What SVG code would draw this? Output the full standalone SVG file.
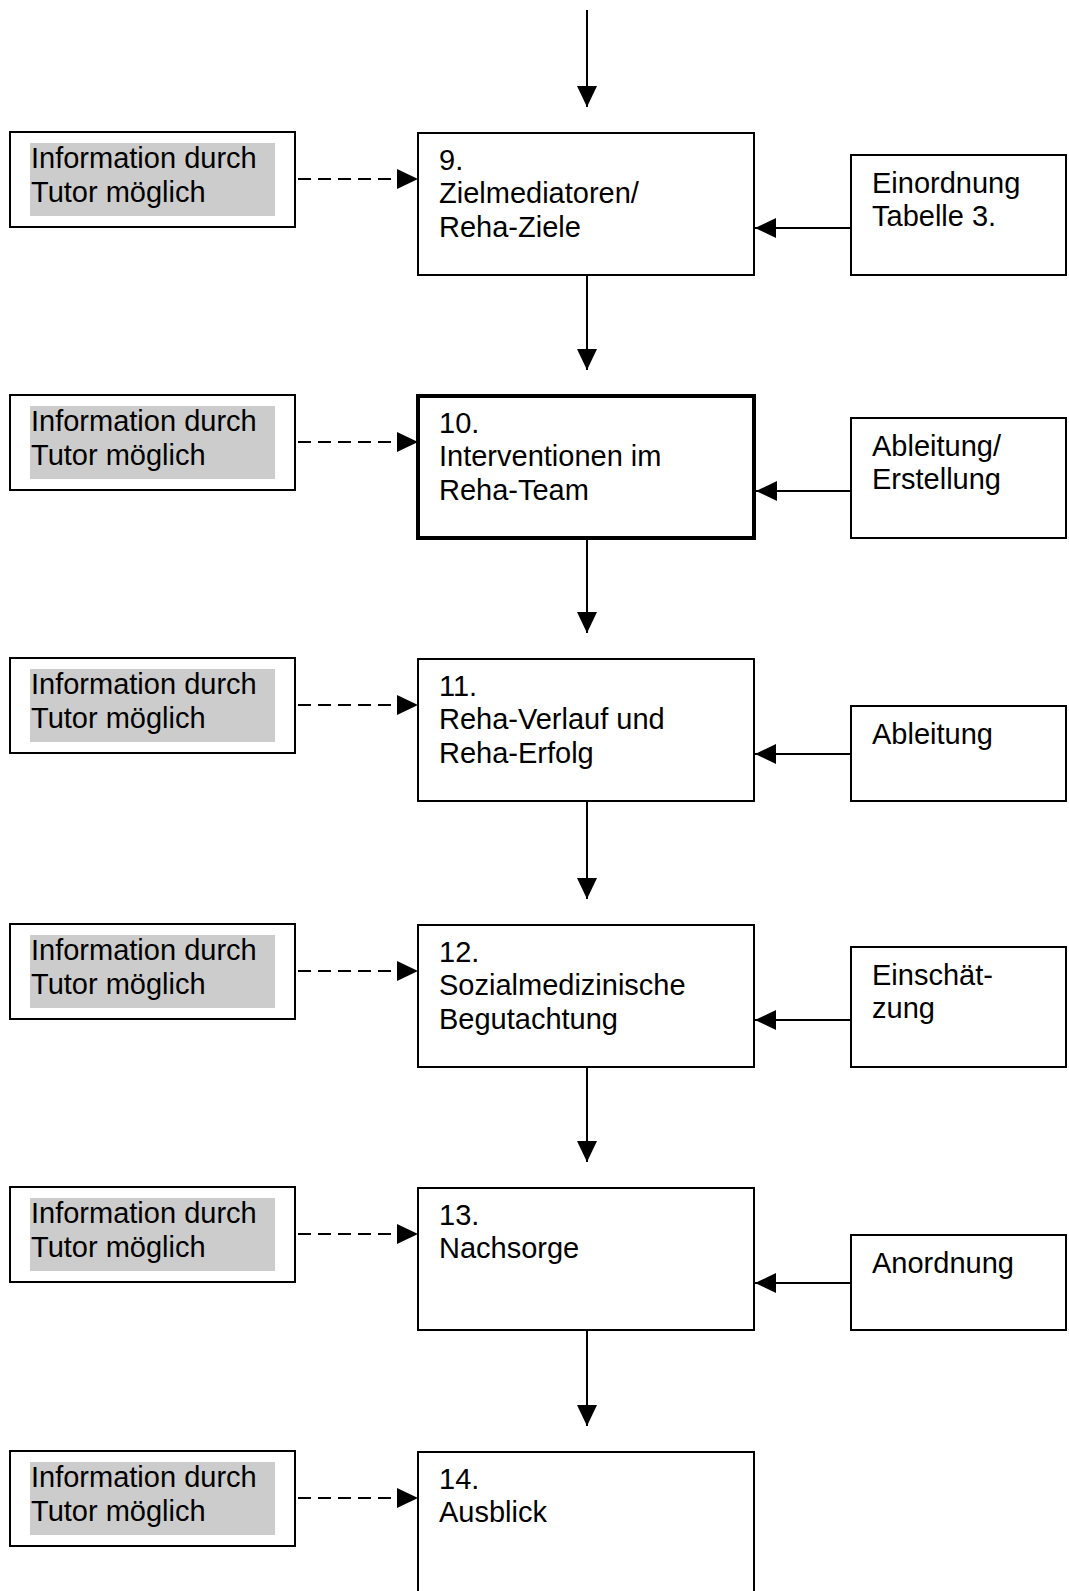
<svg xmlns="http://www.w3.org/2000/svg" width="1069" height="1591" viewBox="0 0 1069 1591">
<style>
.box{fill:#fff;stroke:#000;stroke-width:2}
.bold{stroke-width:4}
.hl{fill:#cccccc;stroke:none}
.t{font-family:"Liberation Sans",Arial,sans-serif;font-size:29px;fill:#000}
.c{stroke:#000;stroke-width:2;fill:none}
.d{stroke-dasharray:13 7}
</style>
<defs>
<marker id="ah" markerUnits="userSpaceOnUse" markerWidth="21" markerHeight="20" refX="21" refY="10" orient="auto">
<path d="M0,0 L21,10 L0,20 z" fill="#000"/>
</marker>
</defs>
<rect width="1069" height="1591" fill="#fff"/>
<g id="connectors">
<line class="c" x1="587" y1="10" x2="587" y2="107" marker-end="url(#ah)"/>
<line class="c" x1="587" y1="275" x2="587" y2="370" marker-end="url(#ah)"/>
<line class="c" x1="587" y1="540" x2="587" y2="633" marker-end="url(#ah)"/>
<line class="c" x1="587" y1="801" x2="587" y2="899" marker-end="url(#ah)"/>
<line class="c" x1="587" y1="1067" x2="587" y2="1162" marker-end="url(#ah)"/>
<line class="c" x1="587" y1="1330" x2="587" y2="1426" marker-end="url(#ah)"/>
<line class="c d" x1="298" y1="179" x2="418" y2="179" marker-end="url(#ah)"/>
<line class="c d" x1="298" y1="442" x2="418" y2="442" marker-end="url(#ah)"/>
<line class="c d" x1="298" y1="705" x2="418" y2="705" marker-end="url(#ah)"/>
<line class="c d" x1="298" y1="971" x2="418" y2="971" marker-end="url(#ah)"/>
<line class="c d" x1="298" y1="1234" x2="418" y2="1234" marker-end="url(#ah)"/>
<line class="c d" x1="298" y1="1498" x2="418" y2="1498" marker-end="url(#ah)"/>
<line class="c" x1="851" y1="228" x2="755" y2="228" marker-end="url(#ah)"/>
<line class="c" x1="851" y1="491" x2="756" y2="491" marker-end="url(#ah)"/>
<line class="c" x1="851" y1="754" x2="755" y2="754" marker-end="url(#ah)"/>
<line class="c" x1="851" y1="1020" x2="755" y2="1020" marker-end="url(#ah)"/>
<line class="c" x1="851" y1="1283" x2="755" y2="1283" marker-end="url(#ah)"/>
</g>
<g id="info9"><rect class="box" x="10" y="132" width="285" height="95"/><rect class="hl" x="30" y="143" width="245" height="73"/><text class="t" x="31" y="168">Information durch</text><text class="t" x="31" y="202">Tutor möglich</text></g>
<g id="info10"><rect class="box" x="10" y="395" width="285" height="95"/><rect class="hl" x="30" y="406" width="245" height="73"/><text class="t" x="31" y="431">Information durch</text><text class="t" x="31" y="465">Tutor möglich</text></g>
<g id="info11"><rect class="box" x="10" y="658" width="285" height="95"/><rect class="hl" x="30" y="669" width="245" height="73"/><text class="t" x="31" y="694">Information durch</text><text class="t" x="31" y="728">Tutor möglich</text></g>
<g id="info12"><rect class="box" x="10" y="924" width="285" height="95"/><rect class="hl" x="30" y="935" width="245" height="73"/><text class="t" x="31" y="960">Information durch</text><text class="t" x="31" y="994">Tutor möglich</text></g>
<g id="info13"><rect class="box" x="10" y="1187" width="285" height="95"/><rect class="hl" x="30" y="1198" width="245" height="73"/><text class="t" x="31" y="1223">Information durch</text><text class="t" x="31" y="1257">Tutor möglich</text></g>
<g id="info14"><rect class="box" x="10" y="1451" width="285" height="95"/><rect class="hl" x="30" y="1462" width="245" height="73"/><text class="t" x="31" y="1487">Information durch</text><text class="t" x="31" y="1521">Tutor möglich</text></g>
<g id="step9"><rect class="box" x="418" y="133" width="336" height="142"/><text class="t" x="439" y="170">9.</text><text class="t" x="439" y="203">Zielmediatoren/</text><text class="t" x="439" y="237">Reha-Ziele</text></g>
<g id="step10"><rect class="box bold" x="418" y="396" width="336" height="142"/><text class="t" x="439" y="433">10.</text><text class="t" x="439" y="466">Interventionen im</text><text class="t" x="439" y="500">Reha-Team</text></g>
<g id="step11"><rect class="box" x="418" y="659" width="336" height="142"/><text class="t" x="439" y="696">11.</text><text class="t" x="439" y="729">Reha-Verlauf und</text><text class="t" x="439" y="763">Reha-Erfolg</text></g>
<g id="step12"><rect class="box" x="418" y="925" width="336" height="142"/><text class="t" x="439" y="962">12.</text><text class="t" x="439" y="995">Sozialmedizinische</text><text class="t" x="439" y="1029">Begutachtung</text></g>
<g id="step13"><rect class="box" x="418" y="1188" width="336" height="142"/><text class="t" x="439" y="1225">13.</text><text class="t" x="439" y="1258">Nachsorge</text></g>
<g id="step14"><rect class="box" x="418" y="1452" width="336" height="142"/><text class="t" x="439" y="1489">14.</text><text class="t" x="439" y="1522">Ausblick</text></g>
<g id="note9"><rect class="box" x="851" y="155" width="215" height="120"/><text class="t" x="872" y="193">Einordnung</text><text class="t" x="872" y="226">Tabelle 3.</text></g>
<g id="note10"><rect class="box" x="851" y="418" width="215" height="120"/><text class="t" x="872" y="456">Ableitung/</text><text class="t" x="872" y="489">Erstellung</text></g>
<g id="note11"><rect class="box" x="851" y="706" width="215" height="95"/><text class="t" x="872" y="744">Ableitung</text></g>
<g id="note12"><rect class="box" x="851" y="947" width="215" height="120"/><text class="t" x="872" y="985">Einschät-</text><text class="t" x="872" y="1018">zung</text></g>
<g id="note13"><rect class="box" x="851" y="1235" width="215" height="95"/><text class="t" x="872" y="1273">Anordnung</text></g>
</svg>
